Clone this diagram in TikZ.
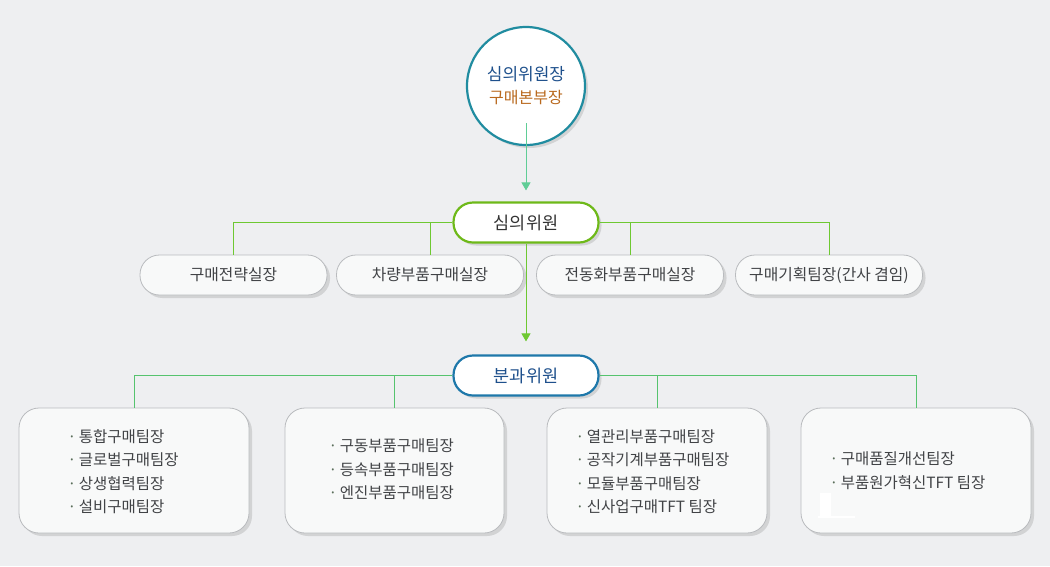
\documentclass[tikz,border=0pt]{standalone}
\usepackage{fontspec}
\setmainfont{Noto Sans CJK KR}
\usetikzlibrary{arrows.meta,shadows}
\definecolor{bgcol}{RGB}{238,239,241}
\definecolor{tealring}{RGB}{32,140,160}
\definecolor{headblue}{RGB}{30,80,140}
\definecolor{headorange}{RGB}{185,105,30}
\definecolor{linegreen}{RGB}{110,200,50}
\definecolor{pillgreen}{RGB}{110,185,25}
\definecolor{pillblue}{RGB}{30,120,170}
\definecolor{boxgray}{RGB}{185,187,190}
\definecolor{boxfill}{RGB}{248,249,249}
\definecolor{txtgray}{RGB}{65,67,70}
\definecolor{arrowmint}{RGB}{95,205,150}
\definecolor{subline}{RGB}{85,195,110}
\definecolor{dotgreen}{RGB}{90,110,90}
\newcommand{\teamdot}{\textcolor{dotgreen}{·}\,}

\tikzset{
  softshadow/.style={drop shadow={shadow xshift=3pt, shadow yshift=-3pt, opacity=0.25, fill=black!50}},
  chief/.style={circle, draw=tealring, line width=2.2pt, fill=white, minimum size=118pt, softshadow, align=center, font=\fontsize{17}{23}\selectfont},
  pill/.style={rounded corners=19.5pt, line width=2.2pt, fill=white, minimum width=145pt, minimum height=40pt, softshadow, font=\fontsize{17.5}{20}\selectfont},
  officebox/.style={rounded corners=19.5pt, draw=boxgray, line width=0.8pt, fill=boxfill, minimum width=187pt, minimum height=40pt, softshadow, text=txtgray, font=\fontsize{15.8}{18}\selectfont},
  teambox/.style={rounded corners=20pt, draw=boxgray, line width=0.8pt, fill=boxfill, minimum height=125pt, softshadow},
  teamlist/.style={anchor=west, align=left, text=txtgray, font=\fontsize{15.5}{23.5}\selectfont},
  arrowline/.style={draw=arrowmint, line width=0.9pt, -{Triangle[length=8pt, width=9pt]}},
  branch/.style={draw=linegreen, line width=0.9pt},
  subbranch/.style={draw=subline, line width=0.9pt}
}

\begin{document}
\begin{tikzpicture}[x=1pt, y=-1pt]
  \fill[bgcol] (0,0) rectangle (1050,566);

  %--- top ---
  \node[chief] (chief) at (526,86) {\textcolor{headblue}{심의위원장}\\\textcolor{headorange}{\fontsize{16}{23}\selectfont 구매본부장}};
  \node[pill, draw=pillgreen, text=black!80] (council) at (526,222.5) {심의위원};
  \draw[arrowline, shorten >=11pt] ([yshift=23pt]chief.south) -- (council.north);

  %--- offices ---
  \node[officebox] (o1) at (233.5,275) {구매전략실장};
  \node[officebox] (o2) at (430,275) {차량부품구매실장};
  \node[officebox] (o3) at (630,275) {전동화부품구매실장};
  \node[officebox] (o4) at (829,275) {구매기획팀장(간사 겸임)};

  \draw[branch] (council.west) -| (o1.north);
  \draw[branch] (council.west) -| (o2.north);
  \draw[branch] (council.east) -| (o3.north);
  \draw[branch] (council.east) -| (o4.north);

  %--- sections ---
  \node[pill, draw=pillblue, text=headblue] (section) at (526,375.5) {분과위원};
  \draw[arrowline, draw=linegreen, shorten >=13pt] (council.south) -- (section.north);

  \node[teambox, minimum width=230pt] (t1) at (134,470.5) {};
  \node[teambox, minimum width=219pt] (t2) at (394.5,470.5) {};
  \node[teambox, minimum width=220pt] (t3) at (657,470.5) {};
  \node[teambox, minimum width=230pt] (t4) at (916,470.5) {};

  \draw[subbranch] (section.west) -| (t1.north);
  \draw[subbranch] (section.west) -| (t2.north);
  \draw[subbranch] (section.east) -| (t3.north);
  \draw[subbranch] (section.east) -| (t4.north);

  \node[teamlist] (l1) at (64,471.5) {\teamdot 통합구매팀장\\\teamdot 글로벌구매팀장\\\teamdot 상생협력팀장\\\teamdot 설비구매팀장};
  \node[teamlist] (l2) at (325,469.5) {\teamdot 구동부품구매팀장\\\teamdot 등속부품구매팀장\\\teamdot 엔진부품구매팀장};
  \node[teamlist] (l3) at (572,471.5) {\teamdot 열관리부품구매팀장\\\teamdot 공작기계부품구매팀장\\\teamdot 모듈부품구매팀장\\\teamdot 신사업구매TFT 팀장};
  \node[teamlist] (l4) at (826,470.5) {\teamdot 구매품질개선팀장\\\teamdot 부품원가혁신TFT 팀장};

  \fill[white] (820,493) rectangle (831,518);
  \fill[white] (818,515.5) rectangle (855,518);
\end{tikzpicture}
\end{document}
